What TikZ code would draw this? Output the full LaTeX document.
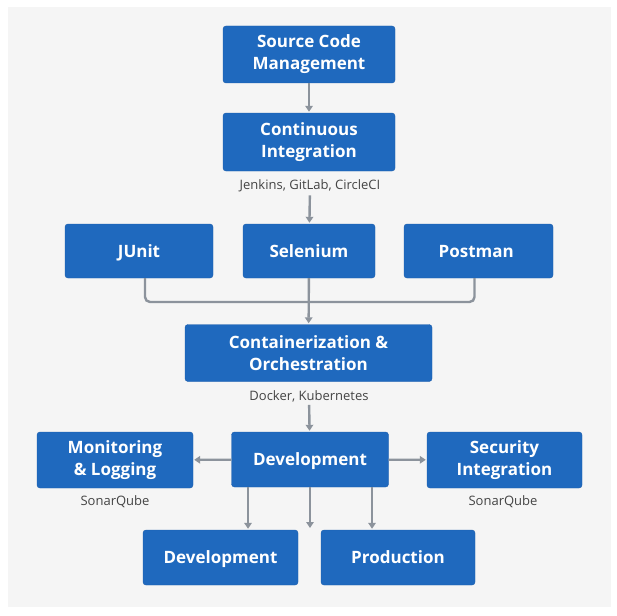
\documentclass[tikz,border=0pt]{standalone}
\usepackage{fontspec}
\setmainfont{Open Sans}
\usetikzlibrary{arrows.meta}
\definecolor{boxblue}{HTML}{1F69BE}
\definecolor{boxedge}{HTML}{1A5CAB}
\definecolor{linegray}{HTML}{8C939C}
\definecolor{captiongray}{HTML}{444444}
\definecolor{panel}{HTML}{F5F5F5}
\tikzset{
    box/.style={draw=boxedge, fill=boxblue, rounded corners=3pt, text=white, align=center,
        font=\fontsize{17}{22}\selectfont\bfseries, inner sep=2pt},
    oneline/.style={text height=14pt, text depth=2pt},
    caption/.style={text=captiongray, font=\fontsize{13}{15}\selectfont, inner sep=3pt},
    conn/.style={draw=linegray, line width=2.4pt},
    arr/.style={conn, -{Triangle[width=7.5pt,length=6pt]}, shorten >=1pt},
}
\begin{document}
\begin{tikzpicture}[x=1pt, y=-1pt]
        \useasboundingbox (0,0) rectangle (617,615);
        \fill[panel] (8,7) rectangle (611,607);

        % Etapa 1
        \node[box, minimum width=172, minimum height=57] (scm) at (309,54.5) {Source Code\\Management};
        \node[box, minimum width=172, minimum height=58] (ci) at (309,142) {Continuous\\Integration};
        \node[caption] (jenkins) at (310,186) {Jenkins, GitLab, CircleCI};
        \draw[arr] (scm) -- (ci);

        % Pruebas
        \foreach \name/\x/\w/\txt in {
            junit/139/148/JUnit,
            selenium/309/132/Selenium,
            postman/478.5/149/Postman
            } {
            \node[box, oneline, minimum width=\w, minimum height=54] (\name) at (\x,251) {\txt};
        }
        \draw[arr] (jenkins) -- (selenium);

        % Contenedores
        \node[box, minimum width=247, minimum height=57] (cont) at (308.5,353) {Containerization \&\\Orchestration};
        \node[caption] (docker) at (309,396) {Docker, Kubernetes};
        \coordinate (merge) at (309,302);
        \draw[conn, rounded corners=5pt] ([xshift=6pt]junit.south) |- (merge) -| ([xshift=-4pt]postman.south);
        \draw[arr] (selenium) -- (cont);

        % Despliegue
        \node[box, oneline, minimum width=157, minimum height=55] (dev) at (310,459.5) {Development};
        \node[box, minimum width=156, minimum height=56] (mon) at (115,460) {Monitoring\\\& Logging};
        \node[box, minimum width=155, minimum height=56] (sec) at (504.5,460) {Security\\Integration};
        \node[caption] (sonarmon) at (115,502) {SonarQube};
        \node[caption] (sonarsec) at (503,502) {SonarQube};
        \draw[arr] (docker) -- (dev);
        \draw[arr] (dev) -- (mon);
        \draw[arr] (dev) -- (sec);

        % Entornos
        \node[box, oneline, minimum width=155, minimum height=55] (devenv) at (220.5,557.5) {Development};
        \node[box, oneline, minimum width=154, minimum height=55] (prod) at (398,557.5) {Production};
        \coordinate (gap) at (310,529);
        \draw[arr] ([xshift=-62pt]dev.south) -- ([xshift=27.5pt]devenv.north);
        \draw[arr] (dev.south) -- (gap);
        \draw[arr] ([xshift=62pt]dev.south) -- ([xshift=-26pt]prod.north);
    \end{tikzpicture}
\end{document}
